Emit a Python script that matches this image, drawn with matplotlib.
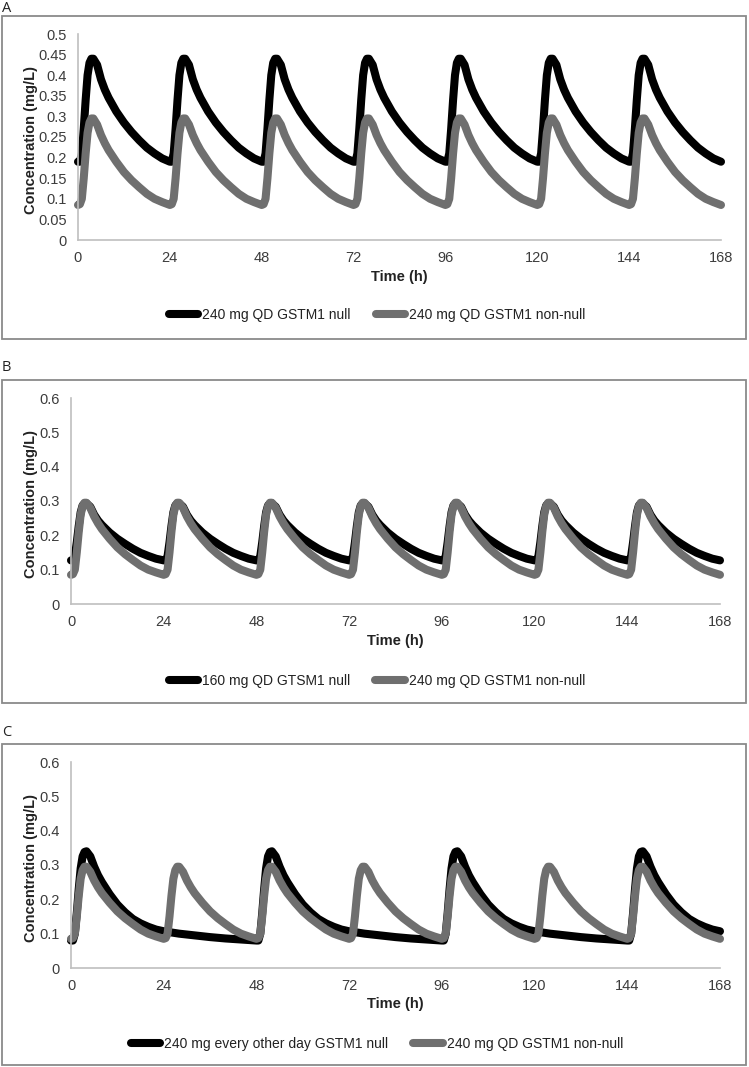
import numpy as np
import matplotlib
matplotlib.use("Agg")
import matplotlib.pyplot as plt
from matplotlib.patches import Rectangle

# ---------------- data ----------------
# time offsets within one dosing interval (h)
cycle_offsets = [0, 0.5, 1, 1.5, 2, 2.5, 3, 3.5, 4, 5, 6, 7, 8, 10, 12, 14, 16, 18, 20, 22, 24]
# 240 mg QD, GSTM1 null (panel A, black)
conc_240_qd_null = [0.19, 0.19, 0.21, 0.27, 0.34, 0.40, 0.43, 0.44, 0.44, 0.425, 0.39, 0.365,
                    0.345, 0.312, 0.285, 0.262, 0.242, 0.224, 0.21, 0.198, 0.19]
# 240 mg QD, GSTM1 non-null (grey, all panels)
conc_240_qd_nonnull = [0.085, 0.087, 0.10, 0.15, 0.21, 0.26, 0.285, 0.295, 0.295, 0.28, 0.255,
                       0.235, 0.218, 0.19, 0.165, 0.145, 0.128, 0.112, 0.10, 0.092, 0.085]
# 160 mg QD, GSTM1 null (panel B, black)
conc_160_qd_null = [0.127, 0.127, 0.14, 0.18, 0.227, 0.267, 0.287, 0.293, 0.293, 0.283, 0.26,
                    0.243, 0.23, 0.208, 0.19, 0.175, 0.161, 0.149, 0.14, 0.132, 0.127]
# 240 mg every other day, GSTM1 null (panel C, black), one 48 h interval
eod_offsets = [0, 0.5, 1, 1.5, 2, 2.5, 3, 3.5, 4, 5, 6, 7, 8, 10, 12, 14, 16, 18, 20, 22, 24,
               28, 32, 36, 40, 44, 48]
conc_240_eod_null = [0.08, 0.08, 0.10, 0.16, 0.23, 0.29, 0.325, 0.338, 0.34, 0.325, 0.295, 0.27,
                     0.25, 0.215, 0.185, 0.162, 0.143, 0.13, 0.12, 0.112, 0.107,
                     0.10, 0.095, 0.09, 0.086, 0.083, 0.08]

qd_dose_times = [0, 24, 48, 72, 96, 120, 144]
eod_dose_times = [0, 48, 96, 144]
x_ticks = [0, 24, 48, 72, 96, 120, 144, 168]
end_time = 168

legend_A = ["240 mg QD GSTM1 null", "240 mg QD GSTM1 non-null"]
legend_B = ["160 mg QD GTSM1 null", "240 mg QD GSTM1 non-null"]
legend_C = ["240 mg every other day GSTM1 null", "240 mg QD GSTM1 non-null"]


def build_series(dose_times, offsets, conc):
    ts, cs = [], []
    for d in dose_times:
        for o, c in zip(offsets, conc):
            t = d + o
            if t > end_time:
                break
            if ts and abs(t - ts[-1]) < 1e-9:
                continue
            ts.append(t)
            cs.append(c)
    return np.array(ts), np.array(cs)


tA1, cA1 = build_series(qd_dose_times, cycle_offsets, conc_240_qd_null)
tG, cG = build_series(qd_dose_times, cycle_offsets, conc_240_qd_nonnull)
tB1, cB1 = build_series(qd_dose_times, cycle_offsets, conc_160_qd_null)
tC1, cC1 = build_series(eod_dose_times, eod_offsets, conc_240_eod_null)

# ---------------- figure ----------------
W, H = 749, 1067
fig = plt.figure(figsize=(W / 100, H / 100), dpi=100)
plt.rcParams['font.family'] = ['Liberation Sans', 'DejaVu Sans']

BLACK = '#000000'
GREY = '#6f6f6f'
TXT = '#3c3c3c'
AX = '#bfbfbf'
LW = 5.8


def fx(px):
    return px / W


def fy(py):
    return 1 - py / H


def fmt(v):
    s = ('%.2f' % v).rstrip('0').rstrip('.')
    return s


panels = [
    dict(label='A', label_y=8, box=(16, 339), ax=(78, 721, 34, 240), ymax=0.5, ystep=0.05,
         series=[(tA1, cA1), (tG, cG)], legend=legend_A, time_y=277, leg_y=315),
    dict(label='B', label_y=368, box=(380, 703), ax=(71, 720, 398, 604), ymax=0.6, ystep=0.1,
         series=[(tB1, cB1), (tG, cG)], legend=legend_B, time_y=641, leg_y=681),
    dict(label='C', label_y=733, box=(744, 1065), ax=(71, 720, 762, 968), ymax=0.6, ystep=0.1,
         series=[(tC1, cC1), (tG, cG)], legend=legend_C, time_y=1004, leg_y=1044),
]

for p in panels:
    # outer box
    y0, y1 = p['box']
    fig.patches.append(Rectangle((fx(2), fy(y1)), fx(744), (y1 - y0) / H,
                                 transform=fig.transFigure, fill=False,
                                 edgecolor='#8a8a8a', linewidth=1.3))
    fig.text(fx(2), fy(p['label_y']), p['label'], fontsize=10.5,
             family=['Open Sans', 'DejaVu Sans'], va='center', ha='left', color='#222222')

    l, r, t, b = p['ax']
    ax = fig.add_axes([fx(l), fy(b), (r - l) / W, (b - t) / H])
    handles = []
    for (tt, cc), col in zip(p['series'], [BLACK, GREY]):
        h, = ax.plot(tt, cc, color=col, lw=LW, solid_capstyle='round', solid_joinstyle='round')
        handles.append(h)
    ax.set_xlim(0, end_time)
    ax.set_ylim(0, p['ymax'])
    ax.set_xticks(x_ticks)
    ax.set_xticklabels([str(v) for v in x_ticks])
    n = int(round(p['ymax'] / p['ystep']))
    yt = [round(i * p['ystep'], 2) for i in range(n + 1)]
    ax.set_yticks(yt)
    ax.set_yticklabels([fmt(v) for v in yt])
    for s in ['top', 'right']:
        ax.spines[s].set_visible(False)
    for s in ['left', 'bottom']:
        ax.spines[s].set_color(AX)
        ax.spines[s].set_linewidth(1.2)
    ax.tick_params(length=0, labelsize=10.5, labelcolor=TXT, pad=8)
    for ln in ax.lines:
        ln.set_clip_on(False)

    fig.text(fx((l + r) / 2), fy(p['time_y']), 'Time (h)', fontsize=10.5, fontweight='bold',
             ha='center', va='center', color='#222222')
    fig.text(fx(31), fy((t + b) / 2 + 3), 'Concentration (mg/L)', fontsize=10.5,
             fontweight='bold', rotation=90, ha='center', va='center', color='#222222')

    fig.legend(handles, p['legend'], loc='center', bbox_to_anchor=(fx(377), fy(p['leg_y'])),
               ncol=2, frameon=False, fontsize=10, handlelength=2.1, handletextpad=0.3,
               columnspacing=1.8, labelcolor='#222222')

fig.savefig('out.png', dpi=100)
